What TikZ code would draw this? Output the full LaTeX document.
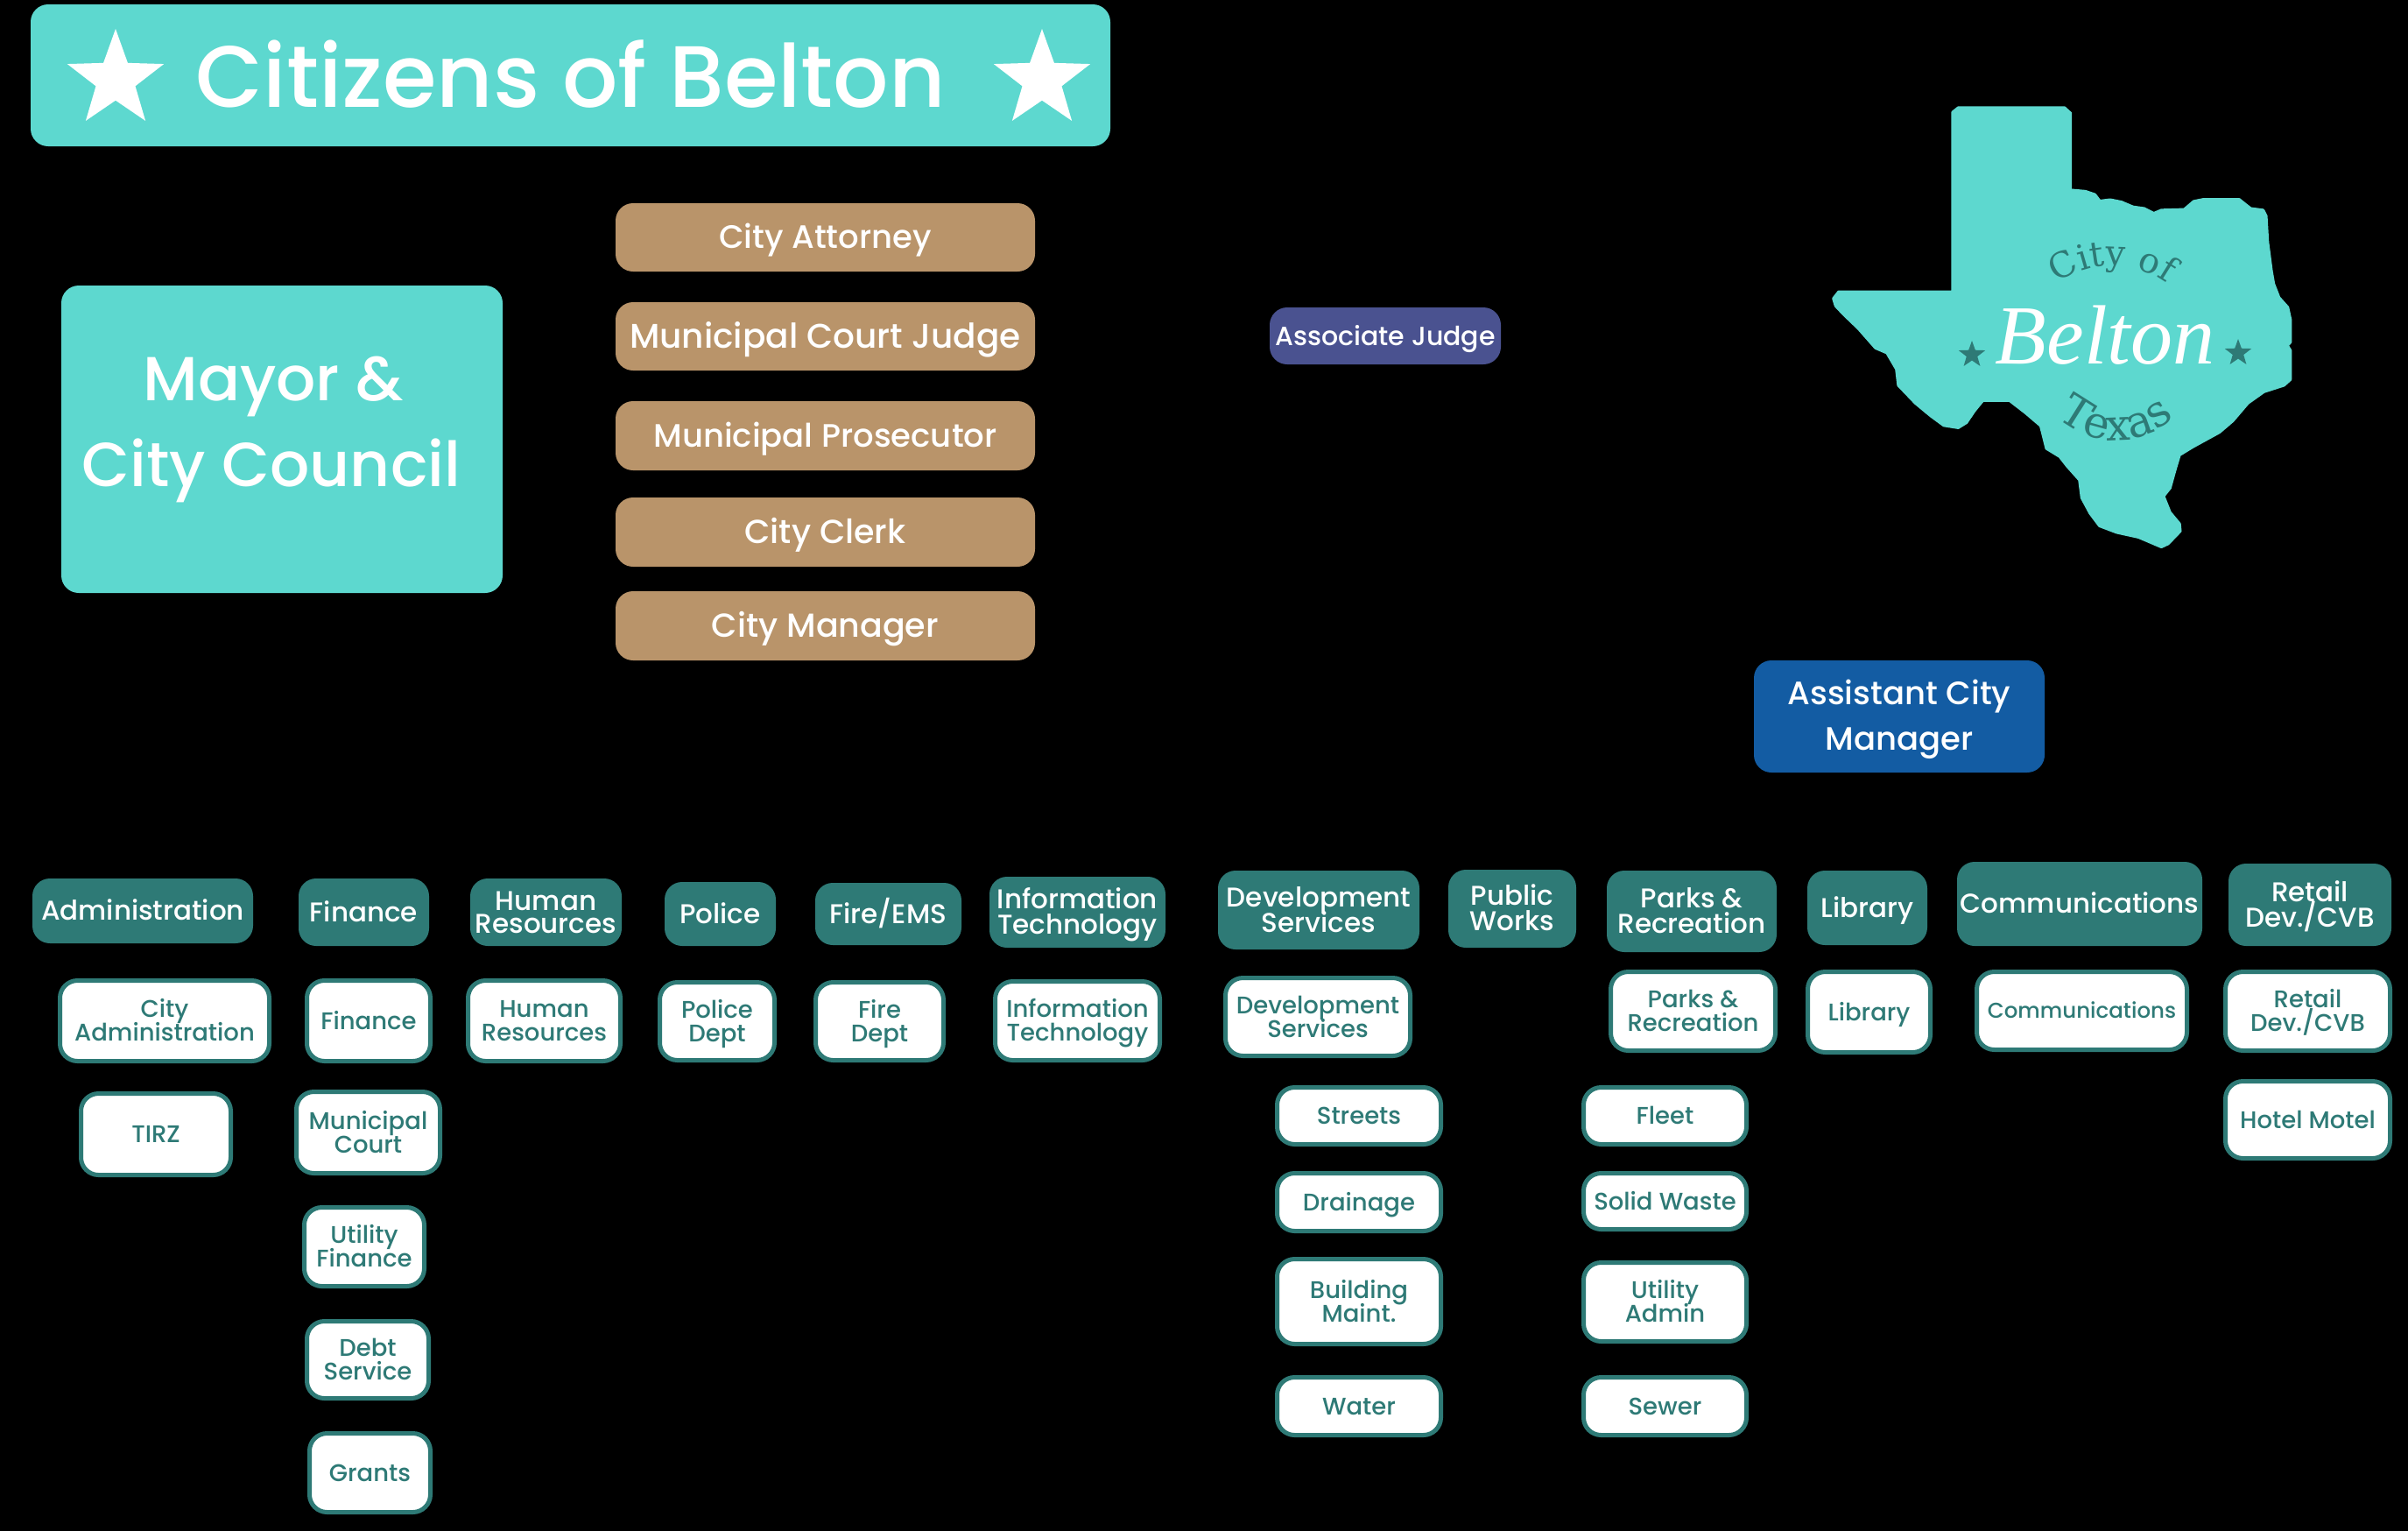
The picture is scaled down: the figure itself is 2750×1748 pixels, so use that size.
\documentclass[tikz,border=0pt]{standalone}
\usepackage{fontspec}
\setmainfont{Poppins Medium}
\newfontfamily\seriff{DejaVu Serif}
\newfontfamily\beltonf{Liberation Serif Italic}
\usetikzlibrary{shapes.geometric,decorations.text}
\definecolor{aqua}{HTML}{5DD8CF}
\definecolor{tealb}{HTML}{2E7A76}
\definecolor{tanb}{HTML}{B9946A}
\definecolor{judge}{HTML}{4A5290}
\definecolor{acm}{HTML}{135CA3}
\newcommand{\fsz}[1]{\fontsize{#1}{#1}\selectfont}
\newcommand{\fszl}[2]{\fontsize{#1}{#2}\selectfont}
% one line of text whose box is its capital height, so capitals centre on the node
\newcommand{\cl}[1]{\raisebox{0pt}[.7em][0pt]{#1}}
% \bx{name}{x1}{y1}{x2}{y2}{inset}{style}{text}
\newcommand{\bx}[8]{%
  \pgfmathsetmacro{\bcx}{(#2+#4)/2}\pgfmathsetmacro{\bcy}{(#3+#5)/2}%
  \pgfmathsetmacro{\bwd}{#4-#2-#6}\pgfmathsetmacro{\bht}{#5-#3-#6}%
  \node[#7,minimum width=\bwd pt,minimum height=\bht pt] (#1) at (\bcx,\bcy) {#8};}
\newcommand{\hd}[6]{\bx{#1}{#2}{#3}{#4}{#5}{0}{head}{#6}}
\newcommand{\wh}[6]{\bx{#1}{#2}{#3}{#4}{#5}{3}{unit}{#6}}
\tikzset{
  boxbase/.style={rounded corners=20pt,inner sep=0pt,outer sep=0pt,align=center,text=white},
  head/.style={boxbase,fill=tealb,font=\fszl{31}{29}},
  unit/.style={boxbase,fill=white,draw=tealb,line width=5pt,text=tealb,font=\fszl{27.5}{27}},
  tanbox/.style={boxbase,fill=tanb,font=\fsz{38}},
  aquabox/.style={boxbase,fill=aqua},
  whitestar/.style={star,star points=5,star point ratio=2.45,fill=white,minimum size=116pt,inner sep=0pt},
  smallstar/.style={star,star points=5,star point ratio=2.45,fill=tealb,minimum size=32pt,inner sep=0pt},
  txt/.style={text=white,align=center,inner sep=0pt},
}
\begin{document}
\begin{tikzpicture}[x=1pt,y=-1pt]
\useasboundingbox (0,0) rectangle (2750,1748);
\fill[black] (0,0) rectangle (2750,1748);
% title
\bx{title}{35}{5}{1268}{167}{0}{aquabox}{}
\node[whitestar] (s1) at (132,91) {};
\node[whitestar] (s2) at (1190,91) {};
\node[txt,font=\fsz{99.5}] (titletext) at (652,88) {\cl{Citizens of Belton}};
% council
\bx{mayor}{70}{326}{574}{677}{0}{aquabox}{}
\node[txt,font=\fsz{71}] (m1) at (312,433) {\cl{Mayor \&}};
\node[txt,font=\fsz{71}] (m2) at (310,531) {\cl{City Council}};
% officers
\bx{attorney}{703}{232}{1182}{310}{0}{tanbox}{\fsz{37}\cl{City Attorney}}
\bx{judgebox}{703}{345}{1182}{423}{0}{tanbox}{\fsz{39}\cl{Municipal Court Judge}}
\bx{prosecutor}{703}{458}{1182}{537}{0}{tanbox}{\fsz{37}\cl{Municipal Prosecutor}}
\bx{clerk}{703}{568}{1182}{647}{0}{tanbox}{\cl{City Clerk}}
\bx{manager}{703}{675}{1182}{754}{0}{tanbox}{\cl{City Manager}}
\bx{assoc}{1450}{351}{1714}{416}{0}{boxbase,fill=judge,font=\fsz{30}}{\cl{Associate Judge}}
\bx{asst}{2003}{754}{2335}{882}{0}{boxbase,fill=acm,font=\fsz{37}}{\cl{Assistant City}\\[15pt]\cl{Manager}}
% Texas
\begin{scope}[shift={(2000,80)},x=0.43365pt,y=-0.36996pt]
\fill[aqua,draw=aqua,line width=3pt,line join=round]
 (530,130)--(545,116)--(825,116)--(841,133)--(841,370)--(880,374)--(905,384)--(918,404)--(945,400)--(975,407)--(1005,422)--(1035,427)--(1060,442)--(1080,432)--(1140,430)--(1165,405)--(1190,399)--(1285,399)--(1315,427)--(1348,432)--(1356,450)--(1360,530)--(1370,620)--(1376,660)--(1390,702)--(1413,732)--(1420,770)--(1420,840)--(1412,850)--(1420,865)--(1420,955)--(1403,973)--(1350,993)--(1308,1028)--(1268,1083)--(1233,1118)--(1163,1163)--(1128,1188)--(1116,1235)--(1103,1290)--(1086,1315)--(1103,1365)--(1128,1400)--(1130,1423)--(1098,1462)--(1080,1472)--(1050,1457)--(1020,1442)--(962,1427)--(917,1407)--(892,1368)--(870,1320)--(864,1265)--(832,1223)--(812,1193)--(777,1168)--(762,1098)--(722,1058)--(680,1020)--(610,1020)--(587,1053)--(567,1088)--(545,1104)--(507,1097)--(472,1067)--(432,1028)--(387,973)--(382,923)--(357,873)--(327,858)--(282,798)--(242,753)--(222,728)--(216,705)--(230,684)--(530,684)--cycle;
\end{scope}
\path[decorate,decoration={text along path,text={|\seriff\fsz{40}\color{tealb}|City of},text align=center}]
  (2322,352) .. controls (2367,287) and (2457,287) .. (2502,352);
\path[decorate,decoration={text along path,text={|\seriff\fsz{50}\color{tealb}|Texas},text align=center}]
  (2320,445) .. controls (2375,522) and (2457,522) .. (2512,445);
\node[txt,font=\beltonf\fsz{96}] (belton) at (2404,383) {Belton};
\node[smallstar] (b1) at (2252,405) {};
\node[smallstar] (b2) at (2556,403) {};
% departments
\hd{dadmin}{37}{1003}{289}{1077}{\cl{Administration}}
\hd{dfin}{341}{1003}{490}{1080}{\cl{Finance}}
\hd{dhr}{537}{1003}{710}{1080}{\cl{Human}\\[-3pt]\cl{Resources}}
\hd{dpol}{759}{1007}{886}{1080}{\cl{Police}}
\hd{dfire}{931}{1008}{1098}{1079}{\cl{Fire/EMS}}
\hd{dit}{1130}{1001}{1331}{1082}{\cl{Information}\\\cl{Technology}}
\hd{ddev}{1391}{994}{1621}{1084}{\cl{Development}\\\cl{Services}}
\hd{dpw}{1654}{993}{1800}{1082}{\cl{Public}\\\cl{Works}}
\hd{dparks}{1835}{994}{2029}{1087}{\cl{Parks \&}\\\cl{Recreation}}
\hd{dlib}{2064}{994}{2201}{1079}{\cl{Library}}
\hd{dcomm}{2235}{984}{2515}{1080}{\cl{Communications}}
\hd{dret}{2545}{986}{2731}{1080}{\cl{Retail}\\\cl{Dev./CVB}}
% units
\wh{uadmin}{67}{1118}{309}{1213}{\cl{City}\\\cl{Administration}}
\wh{utirz}{91}{1247}{265}{1343}{\cl{TIRZ}}
\wh{ufin}{349}{1118}{493}{1213}{\cl{Finance}}
\wh{ucourt}{337}{1245}{504}{1341}{\cl{Municipal}\\\cl{Court}}
\wh{uutil}{346}{1377}{486}{1470}{\cl{Utility}\\\cl{Finance}}
\wh{udebt}{349}{1507}{491}{1598}{\cl{Debt}\\\cl{Service}}
\wh{ugrants}{352}{1635}{493}{1728}{\cl{Grants}}
\wh{uhr}{533}{1118}{710}{1213}{\cl{Human}\\\cl{Resources}}
\wh{upol}{752}{1120}{886}{1212}{\cl{Police}\\\cl{Dept}}
\wh{ufire}{930}{1120}{1079}{1212}{\cl{Fire}\\\cl{Dept}}
\wh{uit}{1135}{1119}{1326}{1212}{\cl{Information}\\\cl{Technology}}
\wh{udev}{1398}{1115}{1612}{1207}{\cl{Development}\\\cl{Services}}
\wh{ustreets}{1457}{1240}{1647}{1308}{\cl{Streets}}
\wh{udrain}{1457}{1338}{1647}{1407}{\cl{Drainage}}
\wh{ubuild}{1457}{1436}{1647}{1536}{\cl{Building}\\\cl{Maint.}}
\wh{uwater}{1457}{1571}{1647}{1640}{\cl{Water}}
\wh{ufleet}{1807}{1240}{1996}{1308}{\cl{Fleet}}
\wh{usolid}{1807}{1338}{1996}{1405}{\cl{Solid Waste}}
\wh{uuadm}{1807}{1440}{1996}{1533}{\cl{Utility}\\\cl{Admin}}
\wh{usewer}{1807}{1571}{1996}{1640}{\cl{Sewer}}
\wh{uparks}{1838}{1108}{2029}{1201}{\cl{Parks \&}\\\cl{Recreation}}
\wh{ulib}{2063}{1108}{2206}{1203}{\cl{Library}}
\wh{ucomm}{2256}{1108}{2499}{1200}{\fsz{24.5}\cl{Communications}}
\wh{uret}{2540}{1108}{2731}{1201}{\cl{Retail}\\\cl{Dev./CVB}}
\wh{uhot}{2540}{1233}{2731}{1324}{\cl{Hotel Motel}}
\end{tikzpicture}
\end{document}
